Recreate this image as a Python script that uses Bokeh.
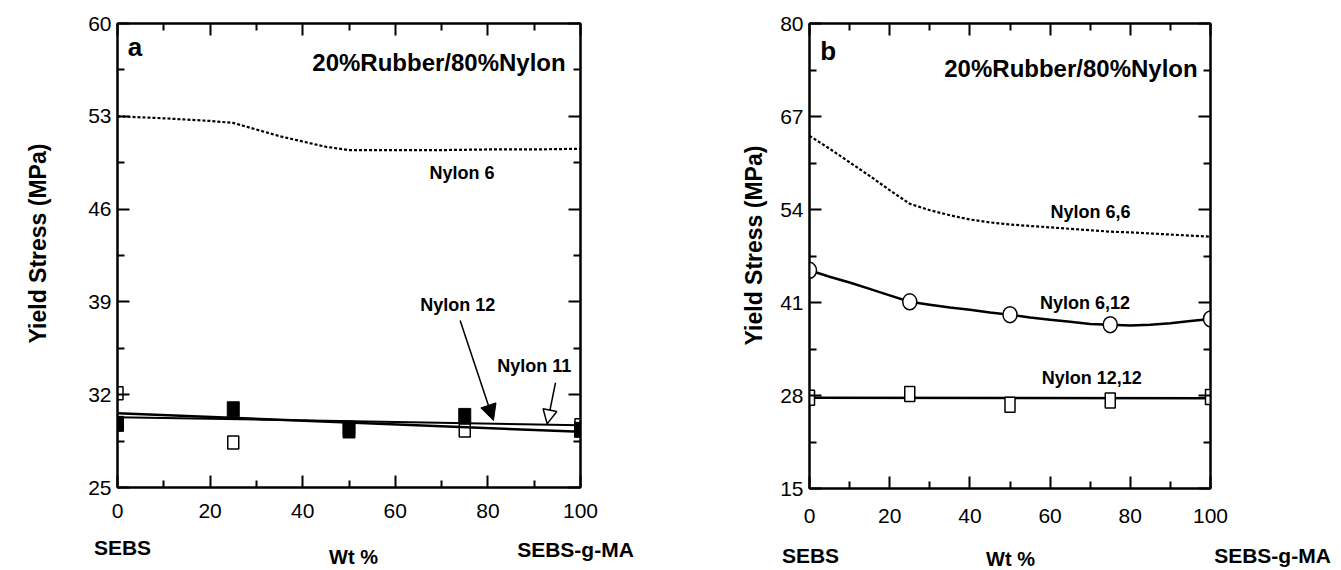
from bokeh.plotting import figure
from bokeh.layouts import row, column
from bokeh.models import Range1d, LinearAxis, FixedTicker, Label, Arrow, NormalHead
from bokeh.embed import file_html
from bokeh.resources import INLINE
import math

# ---------------- data ----------------
wt = [0, 25, 50, 75, 100]
x_ticks = [0, 20, 40, 60, 80, 100]
x_minor = [10, 30, 50, 70, 90]

# panel a
a_y_ticks = [25, 32, 39, 46, 53, 60]
a_y_minor = [28.5, 35.5, 42.5, 49.5, 56.5]
nylon12_pts = [29.8, 30.9, 29.3, 30.4, 29.35]
nylon11_pts = [32.1, 28.4, 29.5, 29.3, 29.7]
fit_x = [0, 100]
nylon12_fit = [30.6, 29.2]
nylon11_fit = [30.3, 29.7]
nylon6_x = [0, 10, 20, 25, 30, 35, 40, 45, 50, 60, 70, 80, 90, 100]
nylon6_y = [53.0, 52.85, 52.65, 52.5, 52.0, 51.5, 51.1, 50.7, 50.45, 50.45, 50.45, 50.5, 50.5, 50.55]

# panel b
b_y_ticks = [15, 28, 41, 54, 67, 80]
b_y_minor = [21.5, 34.5, 47.5, 60.5, 73.5]
nylon612_pts = [45.5, 41.1, 39.3, 37.9, 38.7]
nylon1212_pts = [27.7, 28.2, 26.7, 27.3, 27.8]
nylon612_x = [0, 5, 10, 15, 20, 25, 30, 35, 40, 45, 50, 55, 60, 65, 70, 75, 80, 85, 90, 95, 100]
nylon612_y = [45.5, 44.6, 43.8, 42.9, 42.0, 41.1, 40.7, 40.3, 40.0, 39.6, 39.3, 38.9, 38.6, 38.3, 38.0,
              37.9, 37.8, 37.9, 38.1, 38.4, 38.7]
nylon1212_fit = [27.7, 27.6]
nylon66_x = [0, 5, 10, 15, 20, 25, 30, 35, 40, 45, 50, 60, 70, 75, 80, 90, 100]
nylon66_y = [64.3, 62.5, 60.6, 58.7, 56.7, 54.8, 53.9, 53.2, 52.6, 52.2, 51.9, 51.5, 51.1, 50.9, 50.8, 50.5, 50.2]

FONT = "Liberation Sans"
TOP_H = 528
STRIP_H = 40


def style_axis(ax, ticks, minor, show_labels, standoff):
    ax.axis_line_width = 2
    ax.axis_line_color = "black"
    ax.major_tick_line_width = 2
    ax.minor_tick_line_width = 2
    ax.major_tick_in = 12
    ax.major_tick_out = 0
    ax.minor_tick_in = 7
    ax.minor_tick_out = 0
    ax.ticker = FixedTicker(ticks=ticks, minor_ticks=minor)
    ax.major_label_text_font = FONT
    ax.major_label_text_color = "black"
    ax.major_label_text_font_size = "21px"
    ax.major_label_standoff = standoff
    if not show_labels:
        ax.major_label_overrides = {t: "" for t in ticks}
        ax.major_label_standoff = 0


def make_fig(y0, y1, yt, ym, bl, br, bt, bb, fw, fh, xstand, ystand):
    p = figure(x_range=Range1d(0, 100), y_range=Range1d(y0, y1),
               frame_width=fw, frame_height=fh,
               min_border_left=bl, min_border_right=br, min_border_top=bt, min_border_bottom=bb,
               output_backend="svg", toolbar_location=None)
    p.grid.visible = False
    p.outline_line_color = "black"
    p.outline_line_width = 2
    p.background_fill_color = "white"
    p.border_fill_color = "white"
    style_axis(p.xaxis[0], x_ticks, x_minor, True, xstand)
    style_axis(p.yaxis[0], yt, ym, True, ystand)
    top = LinearAxis()
    style_axis(top, x_ticks, x_minor, False, 0)
    right = LinearAxis()
    style_axis(right, yt, ym, False, 0)
    p.add_layout(top, "above")
    p.add_layout(right, "right")
    return p


def text_box(w, h):
    # plain text strip: its frame covers the whole strip, one data unit = one pixel
    t = figure(x_range=Range1d(0, w), y_range=Range1d(0, h), frame_width=w, frame_height=h,
               min_border=0, x_axis_location=None, y_axis_location=None,
               output_backend="svg", toolbar_location=None)
    t.grid.visible = False
    t.outline_line_color = None
    return t


def lab(p, x, y, text, size, bold=True, align="center", angle=0.0):
    p.add_layout(Label(x=x, y=y, text=text, text_font=FONT, text_font_size=size,
                       text_font_style="bold" if bold else "normal", text_color="black",
                       text_align=align, text_baseline="middle", angle=angle))


# ---------------- panel a ----------------
pa = make_fig(25, 60, a_y_ticks, a_y_minor, 57, 160, 23, 41, 463, 464, 16, 6)
pa.line(nylon6_x, nylon6_y, line_color="black", line_width=2.2, line_dash="3 2")
pa.line(fit_x, nylon12_fit, line_color="black", line_width=2.5)
pa.line(fit_x, nylon11_fit, line_color="black", line_width=2.0)
pa.rect(wt, nylon12_pts, width=12, height=15, width_units="screen", height_units="screen",
        fill_color="black", line_color="black")
pa.rect(wt, nylon11_pts, width=11, height=13, width_units="screen", height_units="screen",
        fill_color=None, line_color="black", line_width=1.5)

lab(pa, 2.2, 58.2, "a", "26px", align="left")
lab(pa, 96.8, 57.06, "20%Rubber/80%Nylon", "24px", align="right")
lab(pa, 74.4, 48.76, "Nylon 6", "18px")
lab(pa, 73.5, 38.73, "Nylon 12", "18px")
lab(pa, 90.0, 34.13, "Nylon 11", "18px")
pa.add_layout(Arrow(end=NormalHead(size=16, fill_color="black", line_color="black"),
                    x_start=74.0, y_start=37.6, x_end=81.2, y_end=30.05,
                    line_width=1.5, line_color="black"))
pa.add_layout(Arrow(end=NormalHead(size=14, fill_color="white", line_color="black", line_width=1.5),
                    x_start=94.6, y_start=32.9, x_end=92.8, y_end=29.8,
                    line_width=1.5, line_color="black"))

ya = text_box(60, TOP_H)
lab(ya, 37, TOP_H - 220, "Yield Stress (MPa)", "23px", angle=math.pi / 2)

# ---------------- panel b ----------------
pb = make_fig(15, 80, b_y_ticks, b_y_minor, 39, 131, 23, 40, 401, 465, 20, 6)
pb.line(nylon66_x, nylon66_y, line_color="black", line_width=2.2, line_dash="3 2")
pb.line(nylon612_x, nylon612_y, line_color="black", line_width=2.5)
pb.line(fit_x, nylon1212_fit, line_color="black", line_width=2.5)
pb.ellipse(wt, nylon612_pts, width=14, height=16, width_units="screen", height_units="screen",
           fill_color="white", line_color="black", line_width=1.5)
pb.rect(wt, nylon1212_pts, width=10, height=15, width_units="screen", height_units="screen",
        fill_color="white", line_color="black", line_width=1.5)

lab(pb, 2.7, 76.1, "b", "26px", align="left")
lab(pb, 96.8, 73.75, "20%Rubber/80%Nylon", "24px", align="right")
lab(pb, 70.1, 53.6, "Nylon 6,6", "18px")
lab(pb, 68.7, 40.9, "Nylon 6,12", "18px")
lab(pb, 70.4, 30.5, "Nylon 12,12", "18px")

yb = text_box(30, TOP_H)
lab(yb, 13, TOP_H - 222, "Yield Stress (MPa)", "23px", angle=math.pi / 2)

# ---------------- bottom strip (both panels) ----------------
strip = text_box(1341, STRIP_H)
lab(strip, 122, STRIP_H - (547 - TOP_H), "SEBS", "21px")
lab(strip, 353, STRIP_H - (556 - TOP_H), "Wt %", "20px")
lab(strip, 575, STRIP_H - (549 - TOP_H), "SEBS-g-MA", "21px")
lab(strip, 810, STRIP_H - (555 - TOP_H), "SEBS", "21px")
lab(strip, 1010, STRIP_H - (558 - TOP_H), "Wt %", "20px")
lab(strip, 1272, STRIP_H - (555 - TOP_H), "SEBS-g-MA", "21px")

layout = column(row(ya, pa, yb, pb), strip)
open("out.html", "w").write(file_html(layout, INLINE))
